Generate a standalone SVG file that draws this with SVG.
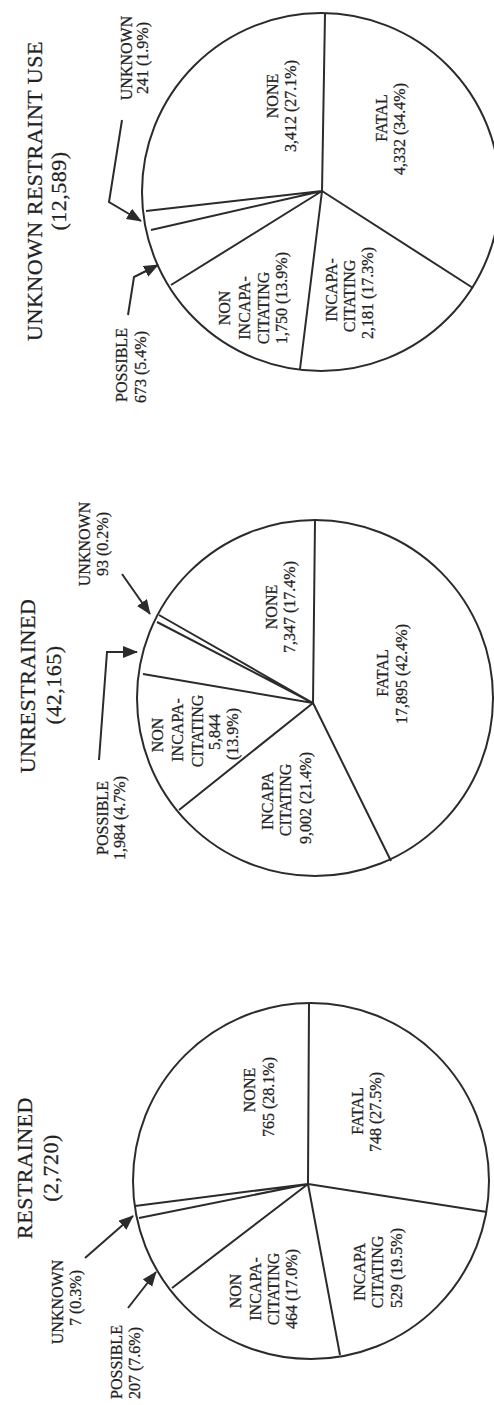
<svg xmlns="http://www.w3.org/2000/svg" width="494" height="1405" viewBox="0 0 494 1405">
<defs>
<style>
.bg{fill:#fff}
.pie{fill:none;stroke:#2b2b2b;stroke-width:2}
.sp{stroke:#2b2b2b;stroke-width:2;fill:none}
.ar{stroke:#2b2b2b;stroke-width:2;fill:none;marker-end:url(#ah)}
text{font-family:"Liberation Serif","DejaVu Serif",serif;fill:#222;stroke:#222;stroke-width:0.25;text-anchor:middle}
.t{font-size:22px;letter-spacing:0.5px}
.l{font-size:16px}
</style>
<marker id="ah" markerUnits="userSpaceOnUse" markerWidth="16" markerHeight="14" refX="14" refY="6" orient="auto">
<path d="M0,0 L15,6 L0,12 z" fill="#2b2b2b"/>
</marker>
</defs>
<rect class="bg" width="494" height="1405"/>

<g id="pie-unknown-restraint">
<circle class="pie" cx="321" cy="192" r="179"/>
<text class="t" transform="translate(42,191) rotate(-90)">UNKNOWN RESTRAINT USE</text>
<text class="t" transform="translate(66,191) rotate(-90)">(12,589)</text>
<text class="l" transform="translate(278,96) rotate(-90)">NONE</text>
<text class="l" transform="translate(296,106) rotate(-90)">3,412 (27.1%)</text>
<text class="l" transform="translate(387,118) rotate(-90)">FATAL</text>
<text class="l" transform="translate(405,129) rotate(-90)">4,332 (34.4%)</text>
<text class="l" transform="translate(230,308) rotate(-90)">NON</text>
<text class="l" transform="translate(250,308) rotate(-90)">INCAPA-</text>
<text class="l" transform="translate(269,308) rotate(-90)">CITATING</text>
<text class="l" transform="translate(287,298) rotate(-90)">1,750 (13.9%)</text>
<text class="l" transform="translate(337,290) rotate(-90)">INCAPA-</text>
<text class="l" transform="translate(355,296) rotate(-90)">CITATING</text>
<text class="l" transform="translate(373,293) rotate(-90)">2,181 (17.3%)</text>
</g>
<g id="label-unknown-3">
<text class="l" transform="translate(132,58) rotate(-90)">UNKNOWN</text>
<text class="l" transform="translate(148,58) rotate(-90)">241 (1.9%)</text>
</g>
<g id="label-possible-3">
<text class="l" transform="translate(127,365) rotate(-90)">POSSIBLE</text>
<text class="l" transform="translate(146,367) rotate(-90)">673 (5.4%)</text>
</g>

<g id="pie-unrestrained">
<circle class="pie" cx="315" cy="698" r="178"/>
<text class="t" transform="translate(35,686) rotate(-90)">UNRESTRAINED</text>
<text class="t" transform="translate(61,685) rotate(-90)">(42,165)</text>
<text class="l" transform="translate(277,607) rotate(-90)">NONE</text>
<text class="l" transform="translate(295,607) rotate(-90)">7,347 (17.4%)</text>
<text class="l" transform="translate(388,673) rotate(-90)">FATAL</text>
<text class="l" transform="translate(407,674) rotate(-90)">17,895 (42.4%)</text>
<text class="l" transform="translate(163,735) rotate(-90)">NON</text>
<text class="l" transform="translate(183,730) rotate(-90)">INCAPA-</text>
<text class="l" transform="translate(203,731) rotate(-90)">CITATING</text>
<text class="l" transform="translate(220,732) rotate(-90)">5,844</text>
<text class="l" transform="translate(238,734) rotate(-90)">(13.9%)</text>
<text class="l" transform="translate(273,801) rotate(-90)">INCAPA</text>
<text class="l" transform="translate(291,800) rotate(-90)">CITATING</text>
<text class="l" transform="translate(311,798) rotate(-90)">9,002 (21.4%)</text>
</g>
<g id="label-unknown-2">
<text class="l" transform="translate(90,544) rotate(-90)">UNKNOWN</text>
<text class="l" transform="translate(108,544) rotate(-90)">93 (0.2%)</text>
</g>
<g id="label-possible-2">
<text class="l" transform="translate(108,818) rotate(-90)">POSSIBLE</text>
<text class="l" transform="translate(125,818) rotate(-90)">1,984 (4.7%)</text>
</g>

<g id="pie-restrained">
<circle class="pie" cx="311" cy="1181" r="178"/>
<text class="t" transform="translate(32,1168) rotate(-90)">RESTRAINED</text>
<text class="t" transform="translate(58,1168) rotate(-90)">(2,720)</text>
<text class="l" transform="translate(255,1090) rotate(-90)">NONE</text>
<text class="l" transform="translate(274,1097) rotate(-90)">765 (28.1%)</text>
<text class="l" transform="translate(363,1111) rotate(-90)">FATAL</text>
<text class="l" transform="translate(381,1112) rotate(-90)">748 (27.5%)</text>
<text class="l" transform="translate(241,1291) rotate(-90)">NON</text>
<text class="l" transform="translate(261,1289) rotate(-90)">INCAPA-</text>
<text class="l" transform="translate(279,1289) rotate(-90)">CITATING</text>
<text class="l" transform="translate(297,1289) rotate(-90)">464 (17.0%)</text>
<text class="l" transform="translate(365,1272) rotate(-90)">INCAPA</text>
<text class="l" transform="translate(383,1272) rotate(-90)">CITATING</text>
<text class="l" transform="translate(402,1268) rotate(-90)">529 (19.5%)</text>
</g>
<g id="label-unknown-1">
<text class="l" transform="translate(63,1302) rotate(-90)">UNKNOWN</text>
<text class="l" transform="translate(81,1298) rotate(-90)">7 (0.3%)</text>
</g>
<g id="label-possible-1">
<text class="l" transform="translate(122,1362) rotate(-90)">POSSIBLE</text>
<text class="l" transform="translate(140,1363) rotate(-90)">207 (7.6%)</text>
</g>

<g id="connectors">
<path class="sp" d="M322,191 L325,14 M322,191 L473,288 M322,191 L300,369 M322,191 L171,285 M322,191 L151,230 M322,191 L146,211"/>
<path class="sp" d="M313,703 L315,520 M313,703 L391,861 M313,703 L179,810 M313,703 L143,674 M313,703 L157,622 M313,703 L159,615"/>
<path class="sp" d="M308,1184 L309,1003 M308,1184 L487,1212 M308,1184 L340,1355 M308,1184 L172,1288 M308,1184 L139,1218 M308,1184 L135,1206"/>
<polyline class="ar" points="122,120 109,202 141,221"/>
<polyline class="ar" points="128,315 134,277 158,265"/>
<line class="ar" x1="122" y1="574" x2="150" y2="614"/>
<polyline class="ar" points="99,760 107,652 137,652"/>
<line class="ar" x1="85" y1="1258" x2="133" y2="1216"/>
<line class="ar" x1="128" y1="1308" x2="156" y2="1272"/>
</g>
</svg>
